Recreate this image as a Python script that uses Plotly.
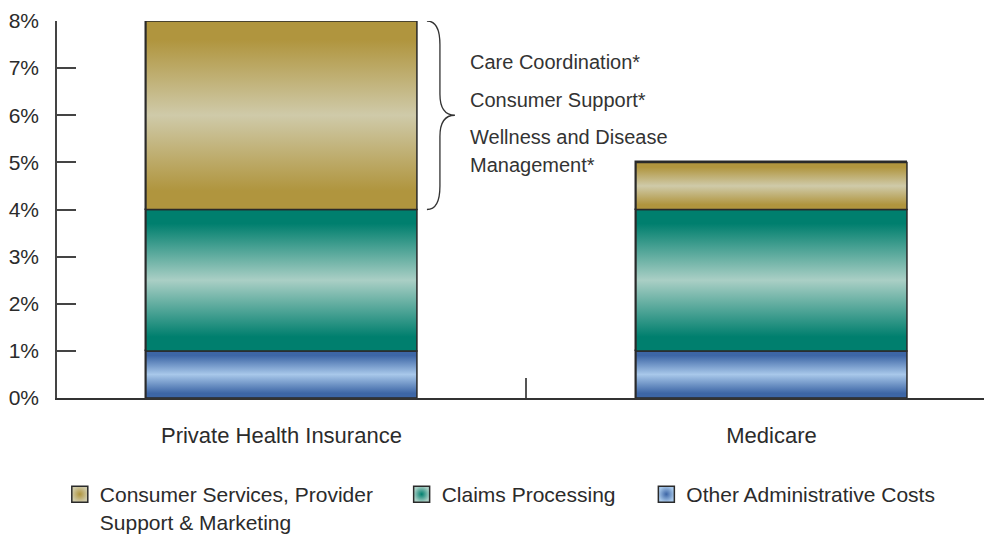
import plotly.graph_objects as go

# ---- data ----
categories = ["Private Health Insurance", "Medicare"]
other_admin = [1, 1]
claims_processing = [3, 3]
consumer_services = [4, 1]
series_names = [
    "Consumer Services, Provider<br>Support & Marketing",
    "Claims Processing",
    "Other Administrative Costs",
]
y_ticks = [0, 1, 2, 3, 4, 5, 6, 7, 8]
y_tick_labels = [f"{v}%" for v in y_ticks]
notes = ["Care Coordination*", "Consumer Support*", "Wellness and Disease", "Management*"]

# ---- styles ----
FONT = "Liberation Sans, Arial, sans-serif"
TXT = "#2b2b2b"
OUTLINE = "#2a2a2a"
BAR_W = 0.553
X_RANGE = [-0.458, 1.448]

styles = {
    "other": dict(edge="#3D66A6", mid="#6E95CB", light="#A8C8EA"),
    "claims": dict(edge="#007F6E", mid="#4FA496", light="#AACFC5"),
    "consumer": dict(edge="#B0953E", mid="#C2AE72", light="#CFCAA9"),
}


def scale(s):
    return [[0, s["edge"]], [0.1, s["edge"]], [0.5, s["light"]], [0.9, s["edge"]], [1, s["edge"]]]


fig = go.Figure()

# stacked base bars on the category axis
stack = [("other", other_admin), ("claims", claims_processing), ("consumer", consumer_services)]
bases = [0] * len(categories)
seg_info = []
for key, vals in stack:
    fig.add_trace(go.Bar(
        x=categories, y=vals, base=bases[:], width=BAR_W,
        marker=dict(color=styles[key]["mid"], line=dict(color=OUTLINE, width=1.5)),
        showlegend=False, hoverinfo="skip",
    ))
    for i, v in enumerate(vals):
        seg_info.append((key, i, bases[i], bases[i] + v))
    bases = [b + v for b, v in zip(bases, vals)]

# gradient overlays (same scale via overlaying linear axis)
for key, i, b, t in seg_info:
    x0, x1 = i - BAR_W / 2, i + BAR_W / 2
    fig.add_trace(go.Scatter(
        x=[x0, x1, x1, x0, x0], y=[b, b, t, t, b],
        xaxis="x2", yaxis="y", mode="lines", fill="toself",
        fillgradient=dict(type="vertical", colorscale=scale(styles[key])),
        line=dict(color=OUTLINE, width=1.5),
        showlegend=False, hoverinfo="skip",
    ))

# legend entries
legend_keys = ["consumer", "claims", "other"]
legend_ids = ["legend", "legend2", "legend3"]
for key, name, lid in zip(legend_keys, series_names, legend_ids):
    s = styles[key]
    fig.add_trace(go.Scatter(
        x=[None], y=[None], xaxis="x2", yaxis="y", mode="markers", name=name,
        marker=dict(symbol="square", size=24, color=s["light"],
                    gradient=dict(type="radial", color=s["edge"]),
                    line=dict(color=OUTLINE, width=1.5)),
        legend=lid, hoverinfo="skip",
    ))

# brace next to the first bar's top segment
top = bases[0]
bot = other_admin[0] + claims_processing[0]
mid = (top + bot) / 2
edge = BAR_W / 2
x0 = edge + 10 / 490
xv = edge + 23 / 490
xt = edge + 38 / 490
path = (f"M {x0},{top} Q {xv},{top} {xv},{top-0.5} L {xv},{mid+0.45} "
        f"Q {xv},{mid} {xt},{mid} Q {xv},{mid} {xv},{mid-0.45} "
        f"L {xv},{bot+0.5} Q {xv},{bot} {x0},{bot}")
fig.add_shape(type="path", path=path, xref="x2", yref="y",
              line=dict(color="#333333", width=1.3))

note_x = edge + 51 / 490
note_y = [7.13, 6.32, 5.54, 4.94]
for txt, yy in zip(notes, note_y):
    fig.add_annotation(x=note_x, y=yy, xref="x2", yref="y", text=txt, showarrow=False,
                       xanchor="left", yanchor="middle",
                       font=dict(family=FONT, size=20, color="#333333"))

leg_common = dict(orientation="v", xanchor="left", yanchor="top", valign="top",
                  font=dict(family=FONT, size=21, color=TXT), bgcolor="rgba(0,0,0,0)",
                  tracegroupgap=0)
leg_y = -0.2017
fig.update_layout(
    width=984, height=530,
    margin=dict(l=49, r=1, t=13, b=140, autoexpand=False),
    paper_bgcolor="white", plot_bgcolor="white",
    barmode="overlay",
    bargap=0,
    font=dict(family=FONT, color=TXT),
    xaxis=dict(type="category", range=X_RANGE, tickson="boundaries", ticks="inside",
               ticklen=20, tickwidth=2, tickcolor="#555555", showline=True,
               linecolor="#333333", linewidth=1.5, showgrid=False, zeroline=False,
               automargin=False,
               tickfont=dict(family=FONT, size=22, color=TXT), ticklabelstandoff=17),
    xaxis2=dict(overlaying="x", range=X_RANGE, visible=False, showgrid=False,
                zeroline=False, automargin=False),
    yaxis=dict(range=[0, 8], tickmode="array", tickvals=y_ticks, ticktext=y_tick_labels,
               ticks="inside", automargin=False,
               ticklen=19, tickwidth=1.5, tickcolor="#444444", showline=True,
               linecolor="#444444", linewidth=1.5, showgrid=False, zeroline=False,
               tickfont=dict(family=FONT, size=21, color=TXT), ticklabelstandoff=12),
    legend=dict(x=0.003, y=leg_y, **leg_common),
    legend2=dict(x=0.369, y=leg_y, **leg_common),
    legend3=dict(x=0.631, y=leg_y, **leg_common),
)

fig.write_html("out.html")
